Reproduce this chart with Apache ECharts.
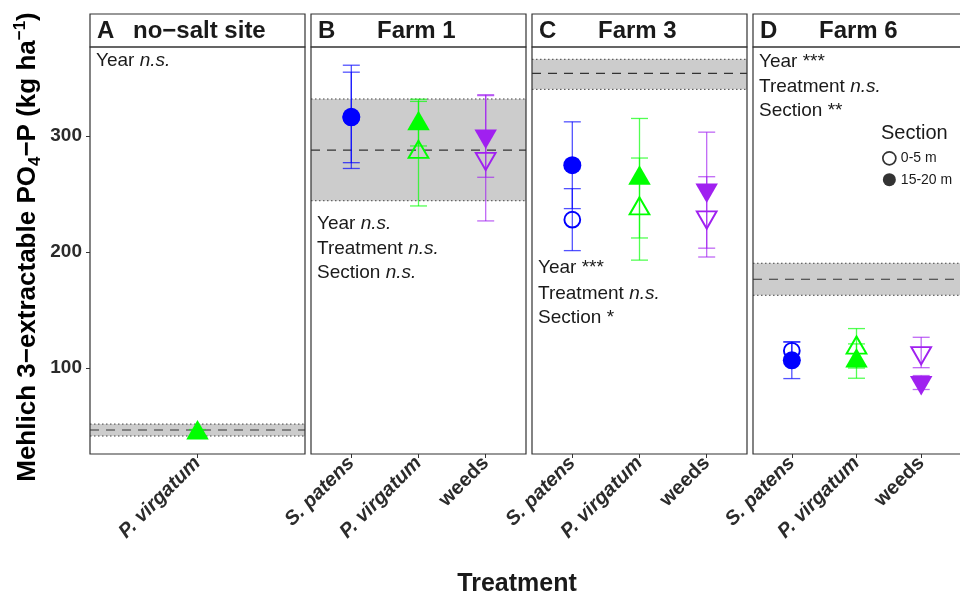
<!DOCTYPE html>
<html>
<head>
<meta charset="utf-8">
<script src="https://cdn.jsdelivr.net/npm/echarts@6/dist/echarts.min.js"></script>
<style>
  html, body { margin: 0; padding: 0; background: #ffffff; }
  #chart { width: 960px; height: 596px; }
</style>
</head>
<body>
<div id="chart"></div>
<script>
// ---- data -----------------------------------------------------------
// treatment categories on the x axis of each facet
const treatments = ['S. patens', 'P. virgatum', 'weeds'];
const noSaltTreatments = ['P. virgatum'];
const yTicks = [100, 200, 300];

// reference band per site: [low, mean, high]
const noSaltBand = [41.4, 46.6, 51.7];
const farm1Band = [244.2, 287.9, 331.9];
const farm3Band = [340.2, 354.0, 366.1];
const farm6Band = [162.7, 176.5, 190.3];

// no-salt site, 15-20 m section only
const noSaltDeepMean = [44.0];
const noSaltDeepSe = [3.0];

// Farm 1
const farm1ShallowMean = [316.0, 285.7, 280.8];
const farm1ShallowSe = [39.0, 46.0, 54.0];
const farm1DeepMean = [316.5, 310.6, 300.0];
const farm1DeepSe = [44.5, 19.2, 35.6];

// Farm 3
const farm3ShallowMean = [227.9, 237.0, 230.3];
const farm3ShallowSe = [26.7, 44.0, 34.6];
const farm3DeepMean = [274.8, 263.6, 253.3];
const farm3DeepSe = [37.4, 51.5, 50.0];

// Farm 6
const farm6ShallowMean = [114.9, 117.0, 113.4];
const farm6ShallowSe = [7.8, 17.0, 13.1];
const farm6DeepMean = [106.6, 106.0, 87.5];
const farm6DeepSe = [15.7, 14.8, 6.0];

// ---- styling / layout ----------------------------------------------
const FONT = "'Liberation Sans', Arial, sans-serif";
const TEXT = '#1a1a1a';
const treatmentColors = ['#0000FF', '#00FF00', '#A020F0'];
const SHALLOW = '0-5 m';
const DEEP = '15-20 m';

const PANEL_W = 215, PANEL_TOP = 47, PANEL_H = 407, STRIP_TOP = 14;
const Y_MIN = 25.9, Y_MAX = 376.7;

const panels = [
  { letter: 'A', name: 'no\u2212salt site', nameDx: 43, left: 90,
    labels: noSaltTreatments, colorIdx: [1], band: noSaltBand,
    shallow: null, deep: [noSaltDeepMean, noSaltDeepSe],
    notes: [['Year ', 'n.s.']], noteY: [60] },
  { letter: 'B', name: 'Farm 1', nameDx: 66, left: 311,
    labels: treatments, colorIdx: [0, 1, 2], band: farm1Band,
    shallow: [farm1ShallowMean, farm1ShallowSe], deep: [farm1DeepMean, farm1DeepSe],
    notes: [['Year ', 'n.s.'], ['Treatment ', 'n.s.'], ['Section ', 'n.s.']], noteY: [223, 248, 272] },
  { letter: 'C', name: 'Farm 3', nameDx: 66, left: 532,
    labels: treatments, colorIdx: [0, 1, 2], band: farm3Band,
    shallow: [farm3ShallowMean, farm3ShallowSe], deep: [farm3DeepMean, farm3DeepSe],
    notes: [['Year ***', ''], ['Treatment ', 'n.s.'], ['Section *', '']], noteY: [267, 293, 317] },
  { letter: 'D', name: 'Farm 6', nameDx: 66, left: 753,
    labels: treatments, colorIdx: [0, 1, 2], band: farm6Band,
    shallow: [farm6ShallowMean, farm6ShallowSe], deep: [farm6DeepMean, farm6DeepSe],
    notes: [['Year ***', ''], ['Treatment ', 'n.s.'], ['Section **', '']], noteY: [61, 86, 110] }
];

// marker shapes by treatment: circle, up triangle, down triangle
const shapes = [
  { symbol: 'circle', rotate: 0, offset: [0, 0], filled: 18, open: 15.8 },
  { symbol: 'triangle', rotate: 0, offset: [0, -3.2], filled: [22.5, 19.5], open: [19.8, 17.2] },
  { symbol: 'triangle', rotate: 180, offset: [0, 3.2], filled: [22.5, 19.5], open: [19.8, 17.2] }
];

function rgba(hex, a) {
  const n = parseInt(hex.slice(1), 16);
  return 'rgba(' + ((n >> 16) & 255) + ',' + ((n >> 8) & 255) + ',' + (n & 255) + ',' + a + ')';
}

// grey reference band with dotted limits and dashed mean
function renderBand(params, api) {
  const cs = params.coordSys;
  const x = api.value(0);
  const yLo = api.coord([x, api.value(1)])[1];
  const yMid = api.coord([x, api.value(2)])[1];
  const yHi = api.coord([x, api.value(3)])[1];
  const x0 = cs.x, x1 = cs.x + cs.width;
  return {
    type: 'group',
    children: [
      { type: 'rect', shape: { x: x0, y: yHi, width: x1 - x0, height: yLo - yHi }, style: { fill: '#CCCCCC' } },
      { type: 'line', shape: { x1: x0, y1: yHi, x2: x1, y2: yHi }, style: { stroke: '#444', lineWidth: 1, lineDash: [1.5, 2.5] } },
      { type: 'line', shape: { x1: x0, y1: yLo, x2: x1, y2: yLo }, style: { stroke: '#444', lineWidth: 1, lineDash: [1.5, 2.5] } },
      { type: 'line', shape: { x1: x0, y1: yMid, x2: x1, y2: yMid }, style: { stroke: '#333', lineWidth: 1.2, lineDash: [9, 7] } }
    ]
  };
}

// vertical error bar with caps
function renderErr(params, api) {
  const x = api.value(0);
  const top = api.coord([x, api.value(2)]);
  const bot = api.coord([x, api.value(1)]);
  const c = rgba(treatmentColors[api.value(3)], 0.68);
  const hw = 8.5;
  const st = { stroke: c, lineWidth: 1.3 };
  return {
    type: 'group',
    children: [
      { type: 'line', shape: { x1: top[0], y1: top[1], x2: bot[0], y2: bot[1] }, style: st },
      { type: 'line', shape: { x1: top[0] - hw, y1: top[1], x2: top[0] + hw, y2: top[1] }, style: st },
      { type: 'line', shape: { x1: bot[0] - hw, y1: bot[1], x2: bot[0] + hw, y2: bot[1] }, style: st }
    ]
  };
}

const grids = [], xAxes = [], yAxes = [], series = [], graphics = [];

panels.forEach((p, i) => {
  const n = p.labels.length;
  const xs = p.labels.map((_, k) => k + 1);

  grids.push({ left: p.left, top: PANEL_TOP, width: PANEL_W, height: PANEL_H, show: false });

  xAxes.push({
    type: 'value', gridIndex: i, min: 0.4, max: n + 0.6,
    axisLine: { show: false }, splitLine: { show: false },
    axisTick: { show: true, customValues: xs, length: 4, lineStyle: { color: '#333', width: 1 } },
    axisLabel: {
      customValues: xs, rotate: 45, margin: 6,
      formatter: v => {
        const t = p.labels[Math.round(v) - 1];
        return t === 'weeds' ? '{n|' + t + '}' : '{i|' + t + '}';
      },
      rich: {
        i: { fontFamily: FONT, fontSize: 20, fontWeight: 'bold', fontStyle: 'italic', color: '#2b2b2b' },
        n: { fontFamily: FONT, fontSize: 20, fontWeight: 'bold', color: '#2b2b2b' }
      }
    }
  });

  yAxes.push({
    type: 'value', gridIndex: i, min: Y_MIN, max: Y_MAX,
    axisLine: { show: false }, splitLine: { show: false },
    axisTick: { show: i === 0, customValues: yTicks, length: 4, lineStyle: { color: '#333', width: 1 } },
    axisLabel: { show: i === 0, customValues: yTicks, margin: 8, fontFamily: FONT, fontSize: 19, fontWeight: 'bold', color: '#2b2b2b' }
  });

  // reference band
  series.push({
    type: 'custom', xAxisIndex: i, yAxisIndex: i, z: 1, silent: true,
    encode: { x: 0, y: 1 },
    renderItem: renderBand,
    data: [[(n + 1) / 2, p.band[0], p.band[1], p.band[2]]]
  });

  const sections = [[SHALLOW, p.shallow, false], [DEEP, p.deep, true]];
  sections.forEach(([label, d]) => {
    if (!d) return;
    const [means, ses] = d;
    series.push({
      type: 'custom', xAxisIndex: i, yAxisIndex: i, z: 2, silent: true,
      encode: { x: 0, y: [1, 2] },
      renderItem: renderErr,
      data: means.map((m, k) => [xs[k], m - ses[k], m + ses[k], p.colorIdx[k]])
    });
  });
  sections.forEach(([label, d, filled]) => {
    if (!d) return;
    const [means] = d;
    series.push({
      name: label, type: 'scatter', xAxisIndex: i, yAxisIndex: i, z: filled ? 4 : 3, silent: true,
      emphasis: { disabled: true },
      data: means.map((m, k) => {
        const ci = p.colorIdx[k];
        const s = shapes[ci];
        const col = treatmentColors[ci];
        return {
          value: [xs[k], m],
          symbol: s.symbol,
          symbolRotate: s.rotate,
          symbolOffset: s.offset,
          symbolSize: filled ? s.filled : s.open,
          itemStyle: filled
            ? { color: col, borderWidth: 0, opacity: 1 }
            : { color: 'rgba(0,0,0,0)', borderColor: col, borderWidth: 1.9, opacity: 1 }
        };
      })
    });
  });

  // facet strip
  graphics.push({ type: 'rect', z: 50, shape: { x: p.left, y: STRIP_TOP, width: PANEL_W, height: PANEL_TOP - STRIP_TOP },
    style: { fill: '#ffffff', stroke: '#333', lineWidth: 1.2 } });
  graphics.push({ type: 'text', z: 51, x: p.left + 7, y: (STRIP_TOP + PANEL_TOP) / 2 + 1,
    style: { text: p.letter, font: 'bold 24px ' + FONT, fill: TEXT, align: 'left', verticalAlign: 'middle' } });
  graphics.push({ type: 'text', z: 51, x: p.left + p.nameDx, y: (STRIP_TOP + PANEL_TOP) / 2 + 1,
    style: { text: p.name, font: 'bold 24px ' + FONT, fill: TEXT, align: 'left', verticalAlign: 'middle' } });
  // panel border
  graphics.push({ type: 'rect', z: 50, shape: { x: p.left, y: PANEL_TOP, width: PANEL_W, height: PANEL_H },
    style: { fill: 'none', stroke: '#333', lineWidth: 1.2 } });
  // significance notes
  p.notes.forEach((nt, k) => {
    const txt = '{r|' + nt[0] + '}' + (nt[1] ? '{i|' + nt[1] + '}' : '');
    graphics.push({ type: 'text', z: 51, x: p.left + 6, y: p.noteY[k] + 1,
      style: {
        text: txt, align: 'left', verticalAlign: 'middle',
        rich: {
          r: { fontFamily: FONT, fontSize: 19, fill: TEXT, color: TEXT },
          i: { fontFamily: FONT, fontSize: 19, fontStyle: 'italic', fill: TEXT, color: TEXT }
        }
      } });
  });
});

// axis titles
graphics.push({ type: 'text', z: 51, x: 28, y: 247, rotation: Math.PI / 2,
  style: {
    text: '{b|Mehlich 3\u2212extractable PO}{sub|4}{b|\u2212P (kg ha}{sup|\u22121}{b|)}',
    align: 'center', verticalAlign: 'middle',
    rich: {
      b: { fontFamily: FONT, fontSize: 26, fontWeight: 'bold', color: TEXT, lineHeight: 32 },
      sub: { fontFamily: FONT, fontSize: 17, fontWeight: 'bold', color: TEXT, lineHeight: 14, verticalAlign: 'bottom' },
      sup: { fontFamily: FONT, fontSize: 17, fontWeight: 'bold', color: TEXT, lineHeight: 14, verticalAlign: 'top' }
    }
  } });
graphics.push({ type: 'text', z: 51, x: 517, y: 584,
  style: { text: 'Treatment', font: 'bold 25px ' + FONT, fill: TEXT, align: 'center', verticalAlign: 'middle' } });
// legend title
graphics.push({ type: 'text', z: 51, x: 881, y: 133,
  style: { text: 'Section', font: '20px ' + FONT, fill: TEXT, align: 'left', verticalAlign: 'middle' } });

const chart = echarts.init(document.getElementById('chart'), null, { renderer: 'canvas' });
chart.setOption({
  animation: false,
  backgroundColor: '#ffffff',
  textStyle: { fontFamily: FONT },
  grid: grids,
  xAxis: xAxes,
  yAxis: yAxes,
  legend: {
    orient: 'vertical', left: 882, top: 151, padding: 0,
    itemWidth: 13, itemHeight: 13, itemGap: 7, itemTextGap: 4,
    selectedMode: false,
    textStyle: { fontFamily: FONT, fontSize: 14, color: TEXT },
    data: [
      { name: SHALLOW, icon: 'circle', itemStyle: { color: '#ffffff', borderColor: '#000000', borderWidth: 1.7 } },
      { name: DEEP, icon: 'circle', itemStyle: { color: '#000000', borderWidth: 0 } }
    ]
  },
  graphic: { elements: graphics },
  series: series
});
</script>
</body>
</html>
